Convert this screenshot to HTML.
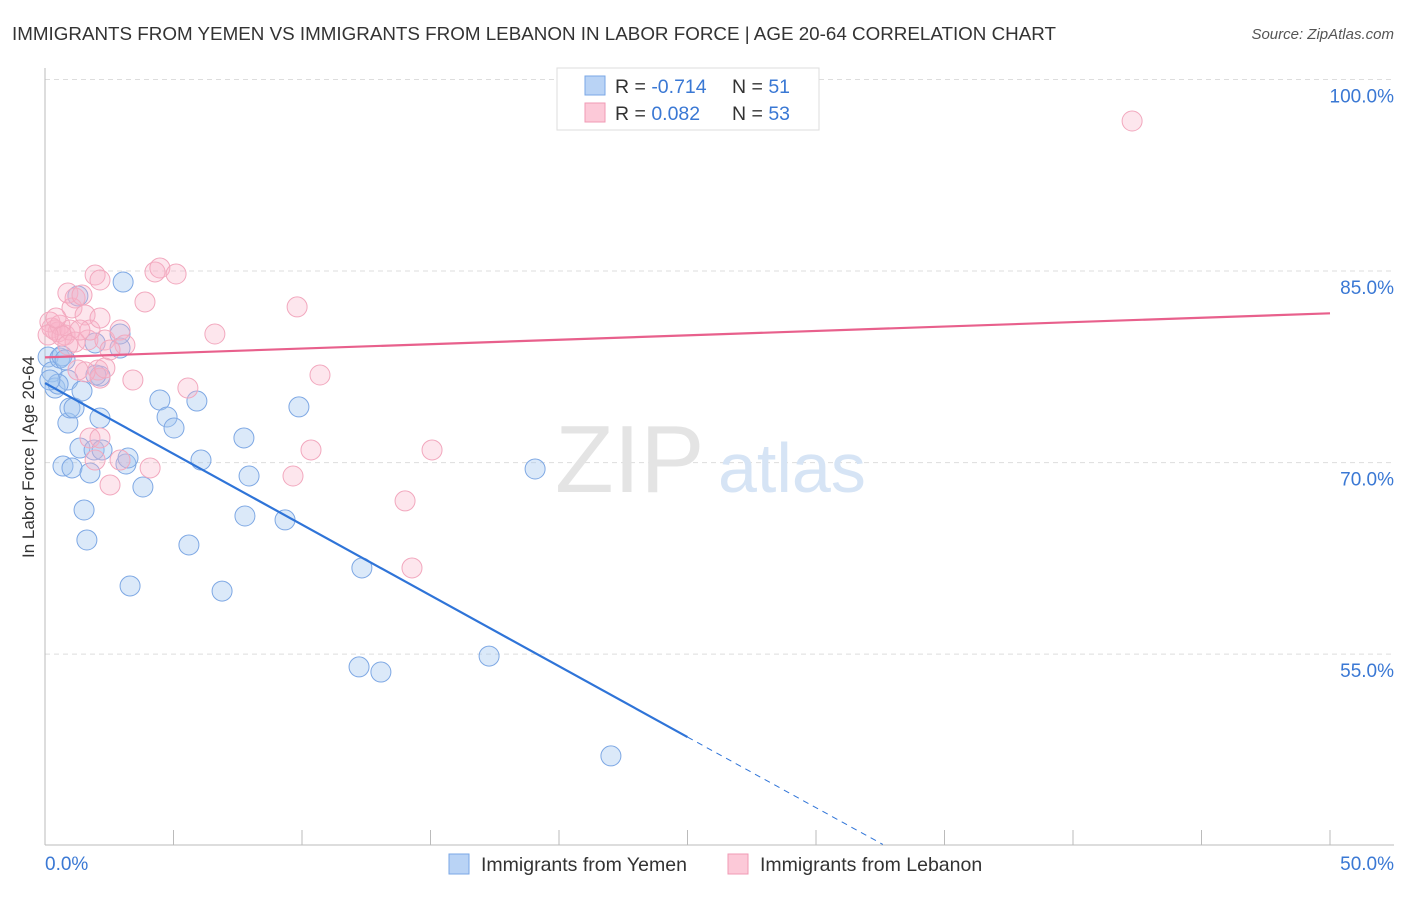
<!DOCTYPE html>
<html><head><meta charset="utf-8"><style>
body{margin:0;background:#fff;font-family:"Liberation Sans",sans-serif;}
svg text{font-family:"Liberation Sans",sans-serif;}
</style></head><body>
<svg id="chart" width="1406" height="892">
<text x="12" y="40" font-size="18.5" fill="#333" textLength="1044" lengthAdjust="spacingAndGlyphs">IMMIGRANTS FROM YEMEN VS IMMIGRANTS FROM LEBANON IN LABOR FORCE | AGE 20-64 CORRELATION CHART</text>
<text x="1394" y="39" font-size="15" fill="#555" text-anchor="end" font-style="italic">Source: ZipAtlas.com</text>
<text x="34" y="457" font-size="17" fill="#333" text-anchor="middle" transform="rotate(-90 34 457)">In Labor Force | Age 20-64</text>
<g id="grid"></g>
<text x="555" y="492" font-size="96" fill="#e4e4e4" font-family="Liberation Serif">ZIP</text>
<text x="718" y="492" font-size="70" fill="#d6e4f5">atlas</text>
<g id="marks"></g>
<g>
<rect x="557" y="68" width="262" height="62" fill="#fff" stroke="#ddd"/>
<rect x="585" y="76" width="20" height="19" fill="#b9d3f5" stroke="#7aa7e6"/>
<rect x="585" y="103" width="20" height="19" fill="#fcc9d8" stroke="#f09ab4"/>
<text x="615" y="93" font-size="19.5" fill="#333">R = <tspan fill="#3a78d4">-0.714</tspan></text>
<text x="732" y="93" font-size="19.5" fill="#333">N = <tspan fill="#3a78d4"> 51</tspan></text>
<text x="615" y="120" font-size="19.5" fill="#333">R = <tspan fill="#3a78d4"> 0.082</tspan></text>
<text x="732" y="120" font-size="19.5" fill="#333">N = <tspan fill="#3a78d4">53</tspan></text>
</g>
<g>
<rect x="449" y="854" width="20" height="20" fill="#b9d3f5" stroke="#7aa7e6"/>
<text x="481" y="871" font-size="19.5" fill="#333">Immigrants from Yemen</text>
<rect x="728" y="854" width="20" height="20" fill="#fcc9d8" stroke="#f09ab4"/>
<text x="760" y="871" font-size="19.5" fill="#333">Immigrants from Lebanon</text>
</g>
<text x="45" y="870" font-size="19" fill="#3a78d4">0.0%</text>
<text x="1394" y="870" font-size="19" fill="#3a78d4" text-anchor="end">50.0%</text>
</svg>
<script>
const yTicks=[100,85,70,55];
const yTickLabels=["100.0%","85.0%","70.0%","55.0%"];
const yemenX=[.12,.27,.39,.58,.66,.70,.89,.89,.97,1.05,1.13,1.28,1.36,1.44,1.52,1.63,1.75,1.91,1.95,2.14,2.14,2.22,3.04,2.92,2.92,3.15,3.23,3.31,3.81,4.47,4.75,5.02,5.6,5.91,6.07,6.89,7.74,7.78,7.94,9.34,9.88,12.33,12.22,13.07,17.28,19.07,22.02,.51,.19,1.98,.78];
const yemenY=[78.27,77.1,75.84,78.19,78.35,69.73,76.47,73.1,74.28,69.58,74.28,83.05,71.14,75.61,66.29,63.94,69.19,70.99,79.37,73.49,76.78,70.99,84.14,78.97,80.07,69.89,70.36,60.34,68.09,74.9,73.57,72.71,63.55,74.82,70.2,59.94,71.93,65.82,68.95,65.51,74.36,61.75,54.0,53.6,54.85,69.5,47.03,76.15,76.47,76.86,78.04];
const lebX=[42.3,.27,.39,.51,.19,.58,.78,.97,1.05,.89,1.17,1.44,1.56,1.67,1.75,1.95,2.14,2.14,2.06,2.33,2.53,2.14,2.92,3.11,3.42,3.89,4.09,4.28,4.47,5.1,5.56,6.61,9.81,10.35,10.7,14.01,14.28,15.06,9.65,1.75,2.14,1.56,1.28,.66,.12,.43,1.17,1.36,1.95,2.92,2.53,.89,2.33];
const lebY=[96.75,80.54,80.38,80.23,81.01,80.77,79.99,80.38,82.11,83.28,82.89,83.12,81.56,79.6,80.38,84.69,84.3,81.32,77.25,79.6,68.25,76.62,80.38,79.21,76.47,82.58,69.58,84.93,85.24,84.77,75.84,80.07,82.19,70.99,76.86,67.0,61.75,70.99,68.95,71.93,71.93,77.1,77.25,79.92,79.99,81.32,79.44,80.38,70.2,70.2,78.82,79.21,77.41];
const yemenTrend=[76.23,48.51,40.1]; const yemenTrendX=[0,25,32.6];
const lebTrend=[78.24,81.69]; const lebTrendX=[0,50];
const X=v=>45+v*25.7, Y=v=>79.5+(100-v)*12.77;
const NS="http://www.w3.org/2000/svg";
const grid=document.getElementById('grid'), marks=document.getElementById('marks');
function mk(tag,at,parent){const e=document.createElementNS(NS,tag);for(const k in at)e.setAttribute(k,at[k]);parent.appendChild(e);return e;}
yTicks.forEach((t,i)=>{
 const l=mk('line',{x1:45,x2:1394,y1:Y(t),y2:Y(t),stroke:'#ddd','stroke-dasharray':'5,4'},grid);
 
 
 const tx=mk('text',{x:1394,y:Y(t)+23,'font-size':19,fill:'#3a78d4','text-anchor':'end'},grid);
 tx.textContent=yTickLabels[i];
 
 
});
const ax=mk('line',{x1:45,x2:45,y1:68,y2:845,stroke:'#bbb'},grid);


const bx=mk('line',{x1:45,x2:1394,y1:845,y2:845,stroke:'#bbb'},grid);


for(let i=0;i<=10;i++){const t=mk('line',{x1:X(i*5),x2:X(i*5),y1:830,y2:845,stroke:'#bbb'},grid);
 
 }
yemenX.forEach((v,i)=>{const c=mk('circle',{cx:X(v),cy:Y(yemenY[i]),r:10,fill:'rgba(160,196,240,0.38)',stroke:'#7ea8e4','stroke-width':1},marks);
 
 });
lebX.forEach((v,i)=>{const c=mk('circle',{cx:X(v),cy:Y(lebY[i]),r:10,fill:'rgba(248,180,200,0.33)',stroke:'#f2a8be','stroke-width':1},marks);
 
 });
const t1=mk('line',{x1:X(yemenTrendX[0]),y1:Y(yemenTrend[0]),x2:X(yemenTrendX[1]),y2:Y(yemenTrend[1]),stroke:'#2f74d8','stroke-width':2.2},marks);


const t2=mk('line',{x1:X(yemenTrendX[1]),y1:Y(yemenTrend[1]),x2:X(yemenTrendX[2]),y2:Y(yemenTrend[2]),stroke:'#2f74d8','stroke-width':1,'stroke-dasharray':'6,5'},marks);


const t3=mk('line',{x1:X(lebTrendX[0]),y1:Y(lebTrend[0]),x2:X(lebTrendX[1]),y2:Y(lebTrend[1]),stroke:'#e8608c','stroke-width':2.2},marks);


</script>
</body></html>
